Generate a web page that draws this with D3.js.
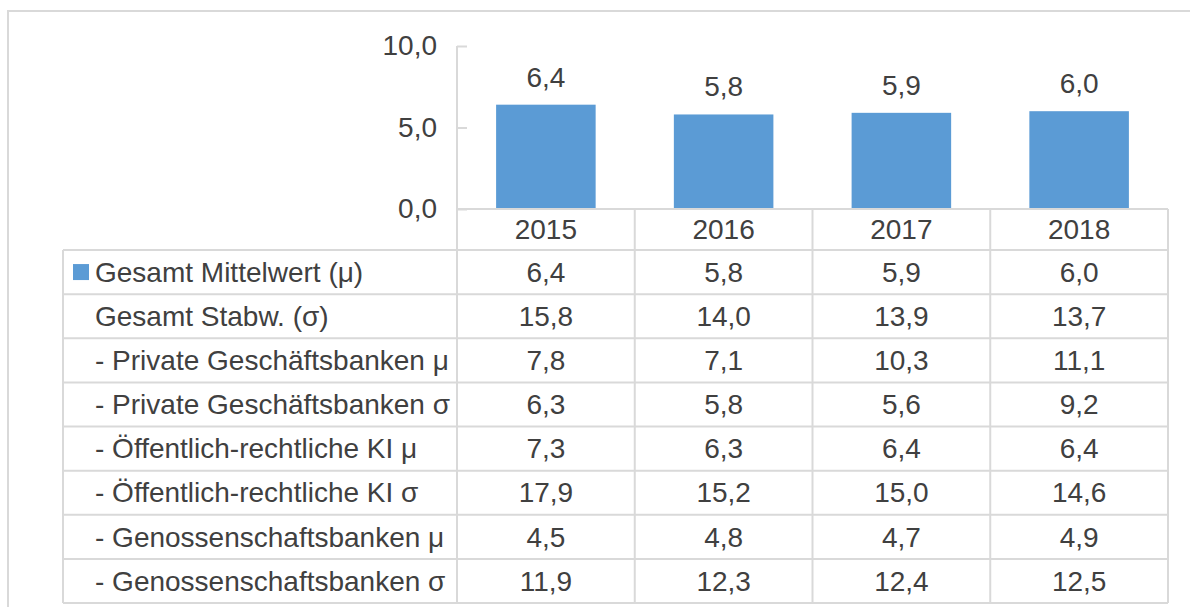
<!DOCTYPE html>
<html>
<head>
<meta charset="utf-8">
<script src="https://cdn.jsdelivr.net/npm/d3@7"></script>
<style>
  body { margin: 0; background: #fff; }
  svg text { font-family: "Liberation Sans", Arial, sans-serif; fill: #404040; }
</style>
</head>
<body>
<script>
// data
var years = ["2015", "2016", "2017", "2018"];
var meanTotal = [6.4, 5.8, 5.9, 6.0];
var yTicks = [0, 5, 10];
var rowLabels = [
  "Gesamt Mittelwert (\u03bc)",
  "Gesamt Stabw. (\u03c3)",
  "- Private Gesch\u00e4ftsbanken \u03bc",
  "- Private Gesch\u00e4ftsbanken \u03c3",
  "- \u00d6ffentlich-rechtliche KI \u03bc",
  "- \u00d6ffentlich-rechtliche KI \u03c3",
  "- Genossenschaftsbanken \u03bc",
  "- Genossenschaftsbanken \u03c3"
];
var stdTotal = [15.8, 14.0, 13.9, 13.7];
var privMean = [7.8, 7.1, 10.3, 11.1];
var privStd = [6.3, 5.8, 5.6, 9.2];
var oeffMean = [7.3, 6.3, 6.4, 6.4];
var oeffStd = [17.9, 15.2, 15.0, 14.6];
var genoMean = [4.5, 4.8, 4.7, 4.9];
var genoStd = [11.9, 12.3, 12.4, 12.5];
var rowValues = [meanTotal, stdTotal, privMean, privStd, oeffMean, oeffStd, genoMean, genoStd];

var width = 1190, height = 607;
var plotLeft = 457, plotRight = 1168, plotTop = 46, plotBottom = 209;
var tableLeft = 63, tableBottom = 603, headerBottom = 250;
var gridColor = "#d9d9d9", barColor = "#5b9bd5";
var fontSize = 28;

var de = d3.formatLocale({decimal: ",", thousands: ".", grouping: [3], currency: ["", "\u20ac"]});
var fmt = de.format(".1f");

var svg = d3.select("body").append("svg")
    .attr("width", width)
    .attr("height", height);

// outer frame
svg.append("path")
    .attr("d", "M8," + height + "V11H" + width)
    .attr("fill", "none")
    .attr("stroke", gridColor)
    .attr("stroke-width", 2);

var yScale = d3.scaleLinear().domain([0, 10]).range([plotBottom, plotTop]);

var xScale = d3.scaleBand()
    .domain(years)
    .range([plotLeft, plotRight])
    .paddingInner(0.44)
    .paddingOuter(0.22);

var colScale = d3.scaleBand().domain(years).range([plotLeft, plotRight]);
var rowScale = d3.scaleBand().domain(rowLabels).range([headerBottom, tableBottom]);

// y axis
var yAxis = d3.axisLeft(yScale)
    .tickValues(yTicks)
    .tickSizeInner(-10)
    .tickSizeOuter(0)
    .tickPadding(20)
    .tickFormat(fmt);

var gy = svg.append("g")
    .attr("transform", "translate(" + plotLeft + ",0)")
    .call(yAxis);
gy.select(".domain").remove();
gy.selectAll(".tick line").attr("stroke", gridColor).attr("stroke-width", 2);
gy.selectAll(".tick text")
    .attr("font-size", fontSize)
    .style("font-family", "Liberation Sans, Arial, sans-serif")
    .attr("fill", "#404040");

// bars
svg.selectAll("rect.bar")
    .data(meanTotal)
    .enter()
    .append("rect")
    .attr("class", "bar")
    .attr("x", function(d, i) { return xScale(years[i]); })
    .attr("y", function(d) { return yScale(d); })
    .attr("width", xScale.bandwidth())
    .attr("height", function(d) { return yScale(0) - yScale(d); })
    .attr("fill", barColor);

// bar labels
svg.selectAll("text.barlabel")
    .data(meanTotal)
    .enter()
    .append("text")
    .attr("class", "barlabel")
    .attr("x", function(d, i) { return xScale(years[i]) + xScale.bandwidth() / 2; })
    .attr("y", function(d) { return yScale(d) - 18; })
    .attr("text-anchor", "middle")
    .attr("font-size", fontSize)
    .text(function(d) { return fmt(d); });

// table grid
var g = svg.append("g").attr("fill", "none").attr("stroke", gridColor).attr("stroke-width", 2);

// header row lines
g.append("line").attr("x1", plotLeft).attr("x2", plotRight).attr("y1", plotBottom).attr("y2", plotBottom);
// row lines
rowLabels.forEach(function(r) {
  var y = rowScale(r);
  g.append("line").attr("x1", tableLeft).attr("x2", plotRight).attr("y1", y).attr("y2", y);
});
g.append("line").attr("x1", tableLeft).attr("x2", plotRight).attr("y1", tableBottom).attr("y2", tableBottom);
// vertical lines
g.append("line").attr("x1", tableLeft).attr("x2", tableLeft).attr("y1", headerBottom).attr("y2", tableBottom);
g.append("line").attr("x1", plotLeft).attr("x2", plotLeft).attr("y1", plotTop).attr("y2", tableBottom);
years.forEach(function(y) {
  var x = colScale(y) + colScale.bandwidth();
  g.append("line").attr("x1", x).attr("x2", x).attr("y1", plotBottom).attr("y2", tableBottom);
});

// year headers
svg.selectAll("text.year")
    .data(years)
    .enter()
    .append("text")
    .attr("class", "year")
    .attr("x", function(d) { return colScale(d) + colScale.bandwidth() / 2; })
    .attr("y", (plotBottom + headerBottom) / 2)
    .attr("dy", "0.35em")
    .attr("text-anchor", "middle")
    .attr("font-size", fontSize)
    .text(function(d) { return d; });

// legend key
svg.append("rect")
    .attr("x", 73)
    .attr("y", rowScale(rowLabels[0]) + rowScale.bandwidth() / 2 - 8)
    .attr("width", 16)
    .attr("height", 16)
    .attr("fill", barColor);

// row labels
svg.selectAll("text.rowlabel")
    .data(rowLabels)
    .enter()
    .append("text")
    .attr("class", "rowlabel")
    .attr("x", 95)
    .attr("y", function(d) { return rowScale(d) + rowScale.bandwidth() / 2; })
    .attr("dy", "0.35em")
    .attr("font-size", fontSize)
    .text(function(d) { return d; });

// table values
rowValues.forEach(function(vals, r) {
  svg.selectAll(null)
      .data(vals)
      .enter()
      .append("text")
      .attr("x", function(d, i) { return colScale(years[i]) + colScale.bandwidth() / 2; })
      .attr("y", rowScale(rowLabels[r]) + rowScale.bandwidth() / 2)
      .attr("dy", "0.35em")
      .attr("text-anchor", "middle")
      .attr("font-size", fontSize)
      .text(function(d) { return fmt(d); });
});
</script>
</body>
</html>
